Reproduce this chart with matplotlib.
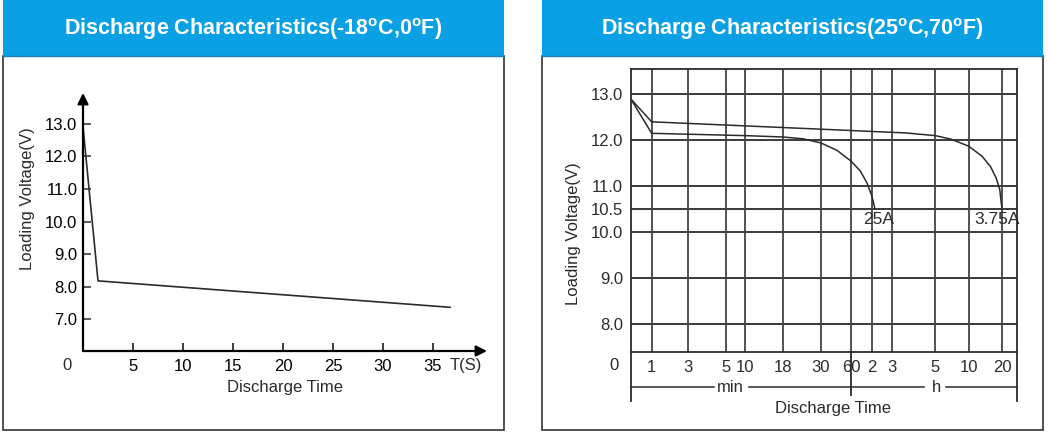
import numpy as np
import matplotlib
matplotlib.use("Agg")
import matplotlib.pyplot as plt
from matplotlib.patches import Rectangle

# ---- data ----
# left chart (-18C): time in seconds, voltage
cold_time = [0, 1.5, 36.7]
cold_volt = [12.9, 8.18, 7.37]
cold_xticks = [5, 10, 15, 20, 25, 30, 35]
cold_yticks = [7, 8, 9, 10, 11, 12, 13]

# right chart (25C): time in minutes, voltage
time_ticks = [0, 1, 3, 5, 10, 18, 30, 60, 120, 180, 300, 600, 1200]
time_labels = ['1', '3', '5', '10', '18', '30', '60', '2', '3', '5', '10', '20']
warm_yticks = [8.0, 9.0, 10.0, 10.5, 11.0, 12.0, 13.0]

t_25a = [0, 1, 10, 18, 24.4, 30, 45.8, 60, 85.7, 104.9, 119, 128]
v_25a = [12.9, 12.15, 12.10, 12.07, 12.03, 11.94, 11.78, 11.54, 11.33, 11.07, 10.78, 10.5]

t_375a = [0, 1, 30, 120, 215, 300, 445, 600, 841, 991, 1094, 1159, 1200]
v_375a = [12.9, 12.40, 12.24, 12.19, 12.16, 12.10, 12.02, 11.87, 11.65, 11.43, 11.18, 10.93, 10.5]

# ---- layout helpers ----
W, H = 1048, 445
fig = plt.figure(figsize=(W / 100, H / 100), dpi=100)

def px_axes(x0, y0, x1, y1):
    return fig.add_axes([x0 / W, 1 - y1 / H, (x1 - x0) / W, (y1 - y0) / H])

plt.rcParams['mathtext.fontset'] = 'custom'
REG = ['Liberation Sans', 'DejaVu Sans']
NARROW = ['Liberation Sans Narrow', 'Liberation Sans', 'DejaVu Sans']
INK = '#2b2b2b'
BLUE = '#0aa0e4'

bg = fig.add_axes([0, 0, 1, 1])
bg.set_xlim(0, W)
bg.set_ylim(H, 0)
bg.axis('off')

titles = ['Discharge Characteristics(-18$^{\\mathregular{o}}$C,0$^{\\mathregular{o}}$F)',
          'Discharge Characteristics(25$^{\\mathregular{o}}$C,70$^{\\mathregular{o}}$F)']
for (x0, x1), title in zip([(3, 504), (541.5, 1042.5)], titles):
    bg.add_patch(Rectangle((x0, 56), x1 - x0, 374, facecolor='white', edgecolor='#333333', lw=1.2))
    bg.add_patch(Rectangle((x0, 0), x1 - x0, 56, facecolor=BLUE, edgecolor='none'))
    bg.plot([x0, x1], [56, 56], color='#1b7fb3', lw=1)
    bg.text((x0 + x1) / 2, 29, title, color='white', fontsize=15.5, fontweight='bold',
            family=REG, ha='center', va='center')

# ---- left chart ----
ax1 = px_axes(83, 93, 487, 351)
ax1.set_xlim(0, 40.4)
ax1.set_ylim(6.03, 13.94)
ax1.patch.set_visible(False)
for s in ax1.spines.values():
    s.set_visible(False)
ax1.plot(cold_time, cold_volt, color=INK, lw=1.2)
arrow = dict(arrowstyle='-|>', color='black', lw=1.6, mutation_scale=16, shrinkA=0, shrinkB=0)
ax1.annotate('', xy=(1, 0), xytext=(0, 0), xycoords='axes fraction', arrowprops=arrow)
ax1.annotate('', xy=(0, 1), xytext=(0, 0), xycoords='axes fraction', arrowprops=arrow)
ax1.set_xticks(cold_xticks)
ax1.set_xticklabels([str(v) for v in cold_xticks], family=NARROW, fontsize=12)
ax1.set_yticks(cold_yticks)
ax1.set_yticklabels(['%.1f' % v for v in cold_yticks], family=NARROW, fontsize=12)
ax1.tick_params(axis='x', direction='in', length=5.5, width=1.3, color=INK, pad=6)
ax1.tick_params(axis='y', direction='in', length=6, width=1.1, color=INK, pad=4)
ax1.text(-1.6, -0.055, '0', transform=ax1.get_xaxis_transform(), family=NARROW, fontsize=12,
         ha='center', va='center', color=INK)
ax1.text(38.3, -0.055, 'T(S)', transform=ax1.get_xaxis_transform(), family=NARROW, fontsize=12,
         ha='center', va='center', color=INK)
ax1.text(0.5, -0.14, 'Discharge Time', transform=ax1.transAxes, family=REG, fontsize=12,
         ha='center', va='center', color=INK)
ax1.text(-0.138, 0.591, 'Loading Voltage(V)', transform=ax1.transAxes, family=REG, fontsize=12,
         ha='center', va='center', rotation=90, color=INK)

# ---- right chart ----
grid_pos = [0, 21, 57, 95, 114, 152.3, 190.3, 220.6, 241.6, 261.6, 304.6, 338, 371.3]
x_right = 386.6

def tpos(t):
    return np.interp(t, time_ticks, grid_pos)

ax2 = px_axes(630.7, 69.3, 1017.3, 351.7)
ax2.set_xlim(0, x_right)
ax2.set_ylim(7.398, 13.543)
ax2.patch.set_visible(False)
for s in ax2.spines.values():
    s.set_color(INK)
    s.set_linewidth(1.3)
for v in warm_yticks:
    ax2.axhline(v, color=INK, lw=1.3, zorder=1)
for p in grid_pos[1:]:
    ax2.axvline(p, color='#444444', lw=1.3, zorder=1)
ax2.plot(tpos(t_25a), v_25a, color=INK, lw=1.1, zorder=3)
ax2.plot(tpos(t_375a), v_375a, color=INK, lw=1.1, zorder=3)
ax2.text(tpos(128) + 4, 10.27, '25A', family=NARROW, fontsize=12.5, ha='center', va='center', color=INK)
ax2.text(tpos(1200) - 5, 10.27, '3.75A', family=NARROW, fontsize=12.5, ha='center', va='center', color=INK)

ax2.set_yticks(warm_yticks)
ax2.set_yticklabels(['%.1f' % v for v in warm_yticks], family=NARROW, fontsize=12)
ax2.set_xticks(grid_pos[1:])
ax2.set_xticklabels(time_labels, family=NARROW, fontsize=12)
ax2.tick_params(axis='both', length=0, colors=INK)
ax2.tick_params(axis='y', pad=5.5)
ax2.tick_params(axis='x', pad=6)

# brackets below the axis (y in axes fraction)
xt = ax2.get_xaxis_transform()
yb = -0.125
for p, y_end in [(0, -0.173), (x_right, -0.173), (tpos(60), -0.154)]:
    ax2.plot([p, p], [0, y_end], transform=xt, color=INK, lw=1.3, clip_on=False)
min_x = (730.5 - 630.7)
h_x = (936.5 - 630.7)
ax2.plot([0, min_x - 17], [yb, yb], transform=xt, color=INK, lw=1.1, clip_on=False)
ax2.plot([min_x + 18, tpos(60)], [yb, yb], transform=xt, color=INK, lw=1.1, clip_on=False)
ax2.plot([tpos(60), h_x - 13], [yb, yb], transform=xt, color=INK, lw=1.1, clip_on=False)
ax2.plot([h_x + 9, x_right], [yb, yb], transform=xt, color=INK, lw=1.1, clip_on=False)
ax2.text(min_x, yb, 'min', transform=xt, family=NARROW, fontsize=12, ha='center', va='center', color=INK)
ax2.text(h_x, yb, 'h', transform=xt, family=NARROW, fontsize=12, ha='center', va='center', color=INK)
ax2.text(-16.7, -0.048, '0', transform=xt, family=NARROW, fontsize=12, ha='center', va='center', color=INK)
ax2.text(832.7 - 630.7, -0.2, 'Discharge Time', transform=xt, family=REG, fontsize=12,
         ha='center', va='center', color=INK)
ax2.text(-57.5, 0.418, 'Loading Voltage(V)', transform=xt, family=REG, fontsize=12,
         ha='center', va='center', rotation=90, color=INK)

fig.savefig('out.png', dpi=100)
